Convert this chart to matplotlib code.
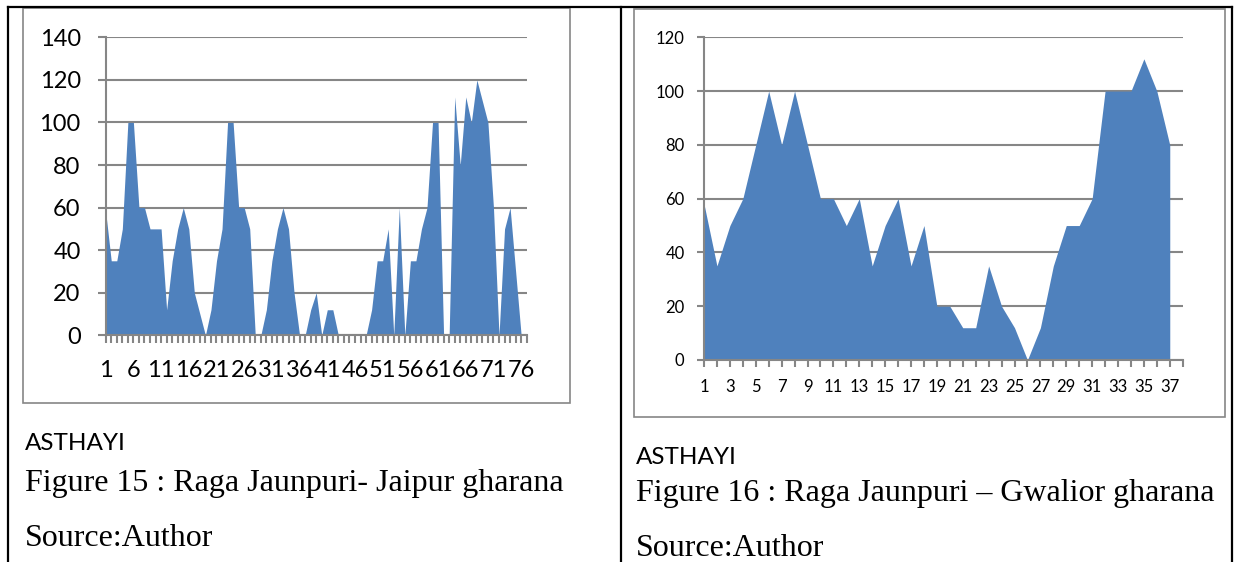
import numpy as np
import matplotlib.pyplot as plt

# Figure 15 - Jaipur gharana (76 points)
jaipur = [58, 35, 35, 50, 100, 100, 60, 60, 50, 50,
          50, 12, 35, 50, 60, 50, 20, 10, 0, 12,
          35, 50, 100, 100, 60, 60, 50, 0, 0, 12,
          35, 50, 60, 50, 20, 0, 0, 12, 20, 0,
          12, 12, 0, 0, 0, 0, 0, 0, 12, 35,
          35, 50, 0, 60, 0, 35, 35, 50, 60, 100,
          100, 0, 0, 112, 80, 112, 100, 120, 110, 100,
          60, 0, 50, 60, 30, 0]

# Figure 16 - Gwalior gharana (37 points)
gwalior = [58, 35, 50, 60, 80, 100, 80, 100, 80, 60,
           60, 50, 60, 35, 50, 60, 35, 50, 20, 20,
           12, 12, 35, 20, 12, 0, 12, 35, 50, 50,
           60, 100, 100, 100, 112, 100, 80]

left_yticks = [0, 20, 40, 60, 80, 100, 120, 140]
right_yticks = [0, 20, 40, 60, 80, 100, 120]

left_text = ["ASTHAYI", "Figure 15 : Raga Jaunpuri- Jaipur gharana", "Source:Author"]
right_text = ["ASTHAYI", "Figure 16 : Raga Jaunpuri \u2013 Gwalior gharana", "Source:Author"]

blue = '#4F81BD'
grey = '#868686'
W, H = 1238, 562

fig = plt.figure(figsize=(W / 100, H / 100), dpi=100)

# page layer in pixel coordinates (table lines, chart frames, captions)
bg = fig.add_axes([0, 0, 1, 1])
bg.set_xlim(0, W)
bg.set_ylim(H, 0)
bg.axis('off')
for xs, ys in [([8, 1232], [7, 7]), ([8, 8], [7, H]), ([621, 621], [7, H]), ([1232, 1232], [7, H])]:
    bg.plot(xs, ys, color='black', lw=1.6)
bg.add_patch(plt.Rectangle((23, 8), 547, 395, fill=False, ec=grey, lw=1.2))
bg.add_patch(plt.Rectangle((634, 9), 591, 408, fill=False, ec=grey, lw=1.2))

bg.text(25, 443, left_text[0], fontsize=17.5, family='Lato', va='center')
bg.text(25, 483, left_text[1], fontsize=23, family='Liberation Serif', va='center')
bg.text(25, 538, left_text[2], fontsize=23, family='Liberation Serif', va='center')
bg.text(636, 458, right_text[0], fontsize=17.5, family='Lato', va='center')
bg.text(636, 494, right_text[1], fontsize=23, family='Liberation Serif', va='center')
bg.text(636, 549, right_text[2], fontsize=23, family='Liberation Serif', va='center')


def area_chart(ax, vals, yticks, xlab_step, fs, tick_len, pad):
    n = len(vals)
    x = np.arange(1, n + 1)
    ax.fill_between(x, 0, vals, color=blue, lw=0, zorder=3)
    ax.set_xlim(1, n + 1)
    ax.set_ylim(yticks[0], yticks[-1])
    ax.set_yticks(yticks)
    ax.set_xticks(np.arange(1, n + 2))
    ax.set_xticklabels([str(i) if (i - 1) % xlab_step == 0 and i <= n else '' for i in range(1, n + 2)])
    ax.grid(axis='y', color=grey, lw=1.5, zorder=1)
    for s in ['top', 'right']:
        ax.spines[s].set_visible(False)
    for s in ['left', 'bottom']:
        ax.spines[s].set_color(grey)
        ax.spines[s].set_linewidth(1.5)
        ax.spines[s].set_zorder(4)
    ax.tick_params(axis='both', color=grey, width=1.5, length=tick_len, labelsize=fs, pad=pad)
    for lab in ax.get_xticklabels() + ax.get_yticklabels():
        lab.set_family('Lato')


ax1 = fig.add_axes([105.7 / W, 1 - 335.3 / H, 421 / W, 298 / H])
area_chart(ax1, jaipur, left_yticks, 5, 17, 6, 12)

ax2 = fig.add_axes([704 / W, 1 - 360 / H, 478.7 / W, 322.7 / H])
area_chart(ax2, gwalior, right_yticks, 2, 12, 5, 9)

fig.savefig('out.png', dpi=100)
